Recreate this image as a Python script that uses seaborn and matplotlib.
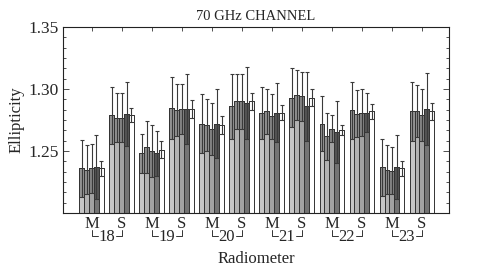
import numpy as np
import pandas as pd
import matplotlib
matplotlib.use("Agg")
import matplotlib.pyplot as plt
import matplotlib.transforms as mtransforms
from matplotlib.ticker import MultipleLocator
import seaborn as sns

# radiometers, each with a main (M) and side (S) arm
radiometers = ['18', '19', '20', '21', '22', '23']
arms = ['M', 'S']
cats = [r + a for r in radiometers for a in arms]

# ellipticity of the five bars in each group, with their errors
set1 = [1.236, 1.279, 1.248, 1.285, 1.272, 1.286, 1.281, 1.293, 1.272, 1.283, 1.237, 1.282]
err1 = [0.023, 0.023, 0.016, 0.025, 0.024, 0.026, 0.021, 0.024, 0.022, 0.023, 0.023, 0.024]
set2 = [1.235, 1.277, 1.253, 1.283, 1.271, 1.290, 1.282, 1.295, 1.262, 1.280, 1.235, 1.282]
err2 = [0.020, 0.020, 0.021, 0.021, 0.021, 0.022, 0.018, 0.020, 0.019, 0.019, 0.020, 0.021]
set3 = [1.236, 1.277, 1.250, 1.284, 1.268, 1.290, 1.278, 1.294, 1.268, 1.281, 1.234, 1.279]
err3 = [0.020, 0.020, 0.021, 0.020, 0.021, 0.022, 0.018, 0.020, 0.011, 0.019, 0.019, 0.021]
set4 = [1.237, 1.280, 1.248, 1.284, 1.272, 1.289, 1.281, 1.286, 1.265, 1.281, 1.237, 1.284]
err4 = [0.026, 0.026, 0.018, 0.028, 0.028, 0.029, 0.024, 0.028, 0.025, 0.016, 0.026, 0.029]
set5 = [1.236, 1.279, 1.251, 1.284, 1.271, 1.290, 1.281, 1.293, 1.267, 1.282, 1.236, 1.282]
err5 = [0.006, 0.006, 0.007, 0.007, 0.007, 0.007, 0.006, 0.007, 0.004, 0.006, 0.006, 0.007]

sets = [set1, set2, set3, set4, set5]
errs = [err1, err2, err3, err4, err5]
series = ['a', 'b', 'c', 'd', 'e']

fills = ['#c6c6c6', '#b2b2b2', '#a2a2a2', '#747474', '#ffffff']
boxes = ['#929292', '#8e8e8e', '#828282', '#545454', '#ffffff']

df = pd.DataFrame({
    'cat': cats * 5,
    'val': sum(sets, []),
    'err': sum(errs, []),
    'series': np.repeat(series, len(cats)),
})

sns.set_style('ticks')
plt.rcParams['font.family'] = ['Liberation Serif', 'DejaVu Serif']

fig = plt.figure(figsize=(4.9, 2.72), dpi=100)
ax = fig.add_axes([0.1286, 0.2169, 0.9163 - 0.1286, 0.9007 - 0.2169])

sns.barplot(data=df, x='cat', y='val', hue='series', order=cats,
            hue_order=series, palette=fills, width=0.82, errorbar=None,
            edgecolor='#333333', linewidth=0.7, legend=False, ax=ax)

# inner box (value - err .. value) and whisker above each bar
for cont, vals, ee, bc in zip(ax.containers, sets, errs, boxes):
    xs = np.array([b.get_x() + b.get_width() / 2 for b in cont])
    w = cont[0].get_width()
    vals = np.array(vals)
    ee = np.array(ee)
    ax.bar(xs, ee, bottom=vals - ee, width=w, color=bc,
           edgecolor='#333333', linewidth=0.7, zorder=3)
    ax.errorbar(xs, vals, yerr=ee, fmt='none', ecolor='#3a3a3a',
                elinewidth=0.8, capsize=1.5, capthick=0.8, zorder=4)

ax.set_ylim(1.20, 1.35)
ax.set_xlim(-0.95, 11.9)
ax.set_yticks([1.25, 1.30, 1.35])
ax.set_yticklabels(['1.25', '1.30', '1.35'])
ax.yaxis.set_minor_locator(MultipleLocator(0.05 / 6))
ax.set_xticks(range(len(cats)))
ax.set_xticklabels(arms * len(radiometers))
ax.tick_params(axis='both', which='both', direction='in', top=True, right=True,
               width=0.6, color='#333333')
ax.tick_params(axis='y', which='major', length=4, labelsize=12.5, pad=3)
ax.tick_params(axis='y', which='minor', length=2)
ax.tick_params(axis='x', which='major', length=3, labelsize=12, pad=2)
for s in ax.spines.values():
    s.set_linewidth(0.8)
    s.set_color('#222222')

ax.set_xlabel('Radiometer', fontsize=12, labelpad=14)
ax.set_ylabel('Ellipticity', fontsize=12, labelpad=3)
ax.set_title('70 GHz CHANNEL', fontsize=10.5, pad=5)

# group brackets under each M/S pair
trans = mtransforms.blended_transform_factory(ax.transData, ax.transAxes)
y_top, y_mid = -0.09, -0.125
for i, r in enumerate(radiometers):
    xm, xs_ = 2 * i, 2 * i + 1
    xc = (xm + xs_) / 2
    ax.plot([xm, xm, xc - 0.3], [y_top, y_mid, y_mid], color='#333333',
            lw=0.7, transform=trans, clip_on=False)
    ax.plot([xc + 0.3, xs_, xs_], [y_mid, y_mid, y_top], color='#333333',
            lw=0.7, transform=trans, clip_on=False)
    ax.text(xc, y_mid - 0.005, r, transform=trans, ha='center', va='center',
            fontsize=12)

fig.savefig('out.png', dpi=100)
